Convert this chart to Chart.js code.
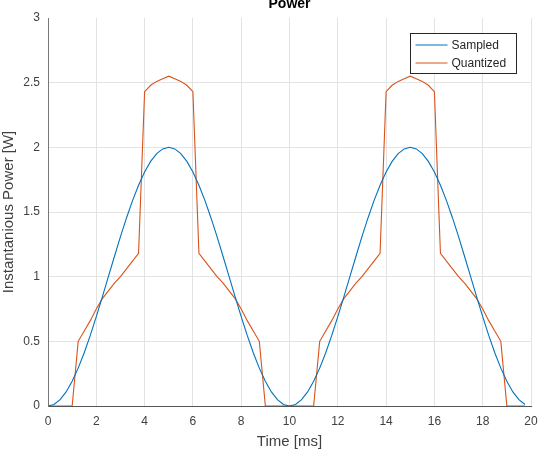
<!DOCTYPE html>
<html>
<head>
<meta charset="utf-8">
<script src="https://cdn.jsdelivr.net/npm/chart.js@4"></script>
<style>
  html, body { margin: 0; padding: 0; background: #fff; }
  #wrap { width: 538px; height: 451px; }
</style>
</head>
<body>
<div id="wrap"><canvas id="powerChart" width="538" height="451"></canvas></div>
<script>
// Time axis in ms
const time = [
    0, 0.25, 0.5, 0.75, 1, 1.25, 1.5, 1.75, 2, 2.25, 2.5, 2.75, 3, 3.25, 3.5, 3.75,
    4, 4.25, 4.5, 4.75, 5, 5.25, 5.5, 5.75, 6, 6.25, 6.5, 6.75, 7, 7.25, 7.5, 7.75,
    8, 8.25, 8.5, 8.75, 9, 9.25, 9.5, 9.75, 10, 10.25, 10.5, 10.75, 11, 11.25, 11.5, 11.75,
    12, 12.25, 12.5, 12.75, 13, 13.25, 13.5, 13.75, 14, 14.25, 14.5, 14.75, 15, 15.25, 15.5, 15.75,
    16, 16.25, 16.5, 16.75, 17, 17.25, 17.5, 17.75, 18, 18.25, 18.5, 18.75, 19, 19.25, 19.5, 19.75
];

const sampled = [
    0, 0.012, 0.049, 0.109, 0.191, 0.293, 0.412, 0.546, 0.691, 0.844, 1.0, 1.156, 1.309, 1.454, 1.588, 1.707,
    1.809, 1.891, 1.951, 1.988, 2.0, 1.988, 1.951, 1.891, 1.809, 1.707, 1.588, 1.454, 1.309, 1.156, 1.0, 0.844,
    0.691, 0.546, 0.412, 0.293, 0.191, 0.109, 0.049, 0.012,
    0, 0.012, 0.049, 0.109, 0.191, 0.293, 0.412, 0.546, 0.691, 0.844, 1.0, 1.156, 1.309, 1.454, 1.588, 1.707,
    1.809, 1.891, 1.951, 1.988, 2.0, 1.988, 1.951, 1.891, 1.809, 1.707, 1.588, 1.454, 1.309, 1.156, 1.0, 0.844,
    0.691, 0.546, 0.412, 0.293, 0.191, 0.109, 0.049, 0.012
];

const quantized = [
    0, 0, 0, 0, 0, 0.5, 0.58, 0.66, 0.75, 0.83, 0.89, 0.95, 1.0, 1.06, 1.12, 1.18,
    2.43, 2.48, 2.51, 2.53, 2.55, 2.53, 2.51, 2.48, 2.43, 1.18, 1.12, 1.06, 1.0, 0.95, 0.89, 0.83,
    0.75, 0.66, 0.58, 0.5, 0, 0, 0, 0,
    0, 0, 0, 0, 0, 0.5, 0.58, 0.66, 0.75, 0.83, 0.89, 0.95, 1.0, 1.06, 1.12, 1.18,
    2.43, 2.48, 2.51, 2.53, 2.55, 2.53, 2.51, 2.48, 2.43, 1.18, 1.12, 1.06, 1.0, 0.95, 0.89, 0.83,
    0.75, 0.66, 0.58, 0.5, 0, 0, 0, 0
];

const seriesNames = ['Sampled', 'Quantized'];
const seriesColors = ['#0072BD', '#D95319'];

const FONT = '"Liberation Sans", Arial, Helvetica, sans-serif';
const TEXT = '#404040';

function toPoints(values) {
    return values.map((v, i) => ({ x: time[i], y: v }));
}

// Title and the in-plot legend box, drawn like MATLAB does
const overlay = {
    id: 'overlay',
    afterDraw(chart) {
        const ctx = chart.ctx;
        ctx.save();
        ctx.fillStyle = '#000';
        ctx.font = 'bold 14px ' + FONT;
        ctx.textAlign = 'center';
        ctx.textBaseline = 'alphabetic';
        const a = chart.chartArea;
        ctx.fillText('Power', (a.left + a.right) / 2, 8);

        // legend
        const bx = 410.5, by = 33.5, bw = 106, bh = 40;
        ctx.fillStyle = '#fff';
        ctx.fillRect(bx, by, bw, bh);
        ctx.strokeStyle = '#262626';
        ctx.lineWidth = 1;
        ctx.strokeRect(bx, by, bw, bh);
        ctx.font = '12px ' + FONT;
        ctx.textAlign = 'left';
        ctx.textBaseline = 'middle';
        chart.data.datasets.forEach((ds, i) => {
            const y = by + 11.5 + i * 18;
            ctx.strokeStyle = ds.borderColor;
            ctx.lineWidth = 1;
            ctx.beginPath();
            ctx.moveTo(bx + 5, y);
            ctx.lineTo(bx + 37, y);
            ctx.stroke();
            ctx.fillStyle = '#262626';
            ctx.fillText(ds.label, bx + 41, y + 1);
        });
        ctx.restore();
    }
};

const ctx = document.getElementById('powerChart').getContext('2d');
new Chart(ctx, {
    type: 'line',
    data: {
        datasets: [
            { label: seriesNames[0], data: toPoints(sampled), borderColor: seriesColors[0], borderWidth: 1.1, pointRadius: 0, tension: 0 },
            { label: seriesNames[1], data: toPoints(quantized), borderColor: seriesColors[1], borderWidth: 1.1, pointRadius: 0, tension: 0 }
        ]
    },
    options: {
        responsive: false,
        animation: false,
        layout: { padding: { top: 18, right: 7, left: 0, bottom: 0 } },
        plugins: {
            legend: { display: false },
            title: { display: false },
            tooltip: { enabled: false }
        },
        scales: {
            x: {
                type: 'linear',
                min: 0,
                max: 20,
                ticks: { stepSize: 2, color: TEXT, font: { family: FONT, size: 12 }, padding: 8, maxRotation: 0 },
                grid: { color: '#e3e3e3', drawTicks: false },
                border: { color: '#555', width: 1 },
                title: { display: true, text: 'Time [ms]', color: TEXT, font: { family: FONT, size: 15 }, padding: { top: 1, bottom: 0 } },
                afterFit(scale) {
                    scale.height = 45;
                    scale.paddingRight = 0;
                    scale.paddingLeft = 0;
                }
            },
            y: {
                min: 0,
                max: 3,
                ticks: {
                    stepSize: 0.5,
                    color: TEXT,
                    font: { family: FONT, size: 12 },
                    padding: 8,
                    callback: (v) => String(Math.round(v * 10) / 10)
                },
                grid: {
                    color: (c) => (c.tick && c.tick.value === 3 ? 'rgba(0,0,0,0)' : '#e3e3e3'),
                    drawTicks: false
                },
                border: { color: '#777', width: 1 },
                title: { display: true, text: 'Instantanious Power [W]', color: TEXT, font: { family: FONT, size: 15 }, padding: { top: 0, bottom: 0 } },
                afterFit(scale) {
                    scale.width = 48;
                    scale.paddingTop = 0;
                    scale.paddingBottom = 0;
                }
            }
        }
    },
    plugins: [overlay]
});
</script>
</body>
</html>
